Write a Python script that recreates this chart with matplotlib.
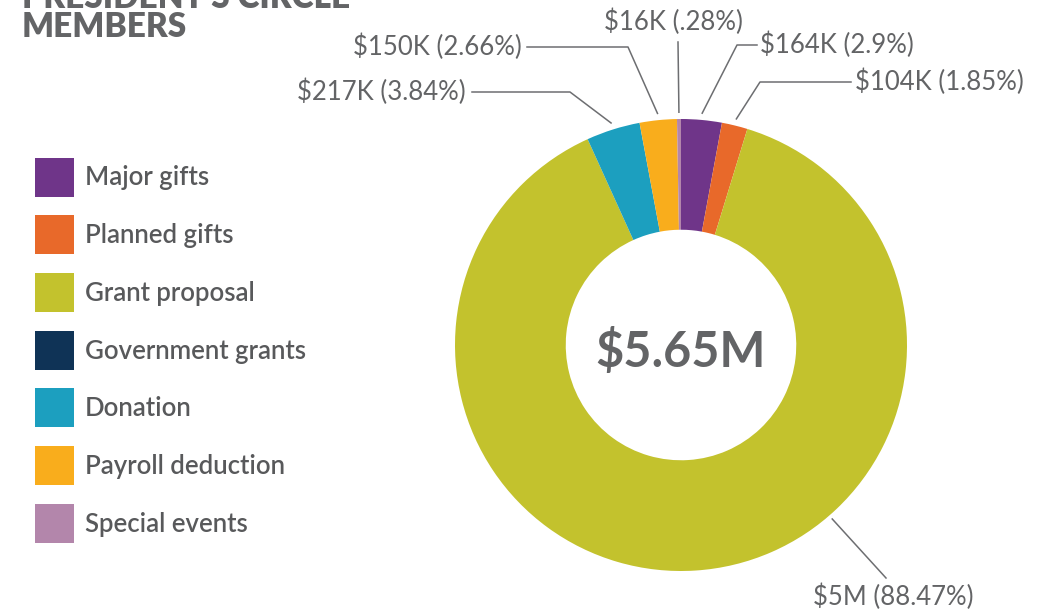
import numpy as np
import matplotlib.pyplot as plt
from matplotlib.patches import Rectangle
from matplotlib.lines import Line2D

# data
categories = ["Major gifts", "Planned gifts", "Grant proposal", "Government grants",
              "Donation", "Payroll deduction", "Special events"]
amounts_k = [164, 104, 5000, 0, 217, 150, 16]
value_labels = ["$164K", "$104K", "$5M", "", "$217K", "$150K", "$16K"]
pct_labels = ["2.9%", "1.85%", "88.47%", "", "3.84%", "2.66%", ".28%"]
total_label = "$5.65M"
colors = ["#6f3589", "#e8692a", "#c3c22d", "#0f3356", "#1c9fbf", "#f9ad1c", "#b386ab"]

W, H = 1052, 611
fig = plt.figure(figsize=(10.52, 6.11), dpi=100)
plt.rcParams['font.family'] = ['Lato', 'DejaVu Sans']

def px(x, y):
    # pixel position from top-left -> figure fraction
    return x / W, 1 - y / H

# donut
cx, cy, R = 681, 345, 226
ax = fig.add_axes([(cx - R) / W, (H - cy - R) / H, 2 * R / W, 2 * R / H])
wedges, _ = ax.pie(amounts_k, colors=colors, startangle=90, counterclock=False,
                   radius=1, wedgeprops=dict(width=0.49, linewidth=0))
ax.set_xlim(-1, 1)
ax.set_ylim(-1, 1)
ax.axis('off')
ax.text(0, -0.03, total_label, ha='center', va='center', fontsize=35,
        fontweight='bold', color='#636466')

# label layout (pixels from top-left)
layout = {
    0: dict(text=(760, 45), ha='left', path=[(757, 45), (737, 45)]),
    1: dict(text=(855, 82), ha='left', path=[(851, 82), (760, 82)]),
    2: dict(text=(893, 597), ha='center', path=[(886, 578)], angle=-49, r=1.02),
    4: dict(text=(466, 92), ha='right', path=[(472, 92), (570, 92)]),
    5: dict(text=(522, 47), ha='right', path=[(527, 47), (628, 47)]),
    6: dict(text=(673, 22), ha='center', path=[(678, 42)]),
}
line_col = '#6d6e71'
for i, opt in layout.items():
    w = wedges[i]
    ang = opt.get('angle', (w.theta1 + w.theta2) / 2)
    r = opt.get('r', 1.03)
    end = (cx + R * r * np.cos(np.radians(ang)), cy - R * r * np.sin(np.radians(ang)))
    pts = opt['path'] + [end]
    xs = [px(*p)[0] for p in pts]
    ys = [px(*p)[1] for p in pts]
    fig.add_artist(Line2D(xs, ys, transform=fig.transFigure, color=line_col, lw=1.1))
    tx, ty = px(*opt['text'])
    fig.text(tx, ty, f"{value_labels[i]} ({pct_labels[i]})", ha=opt['ha'], va='center',
             fontsize=18.5, color='#636466')

# legend
for k, (name, col) in enumerate(zip(categories, colors)):
    yc = 177 + k * 57.7
    x0, y0 = px(35, yc + 19.5)
    fig.add_artist(Rectangle((x0, y0), 39 / W, 39 / H, transform=fig.transFigure,
                             facecolor=col, edgecolor='none'))
    tx, ty = px(85, yc + 1)
    fig.text(tx, ty, name, ha='left', va='center', fontsize=18.5, color='#58595b',
             fontweight='semibold')

# title (first line cut off at top, as in the source)
fig.text(*px(22, 8), "PRESIDENT'S CIRCLE", ha='left', va='baseline', fontsize=24,
         fontweight='heavy', color='#636466')
fig.text(*px(22, 37), "MEMBERS", ha='left', va='baseline', fontsize=24,
         fontweight='heavy', color='#636466')

fig.savefig('out.png', dpi=100)
